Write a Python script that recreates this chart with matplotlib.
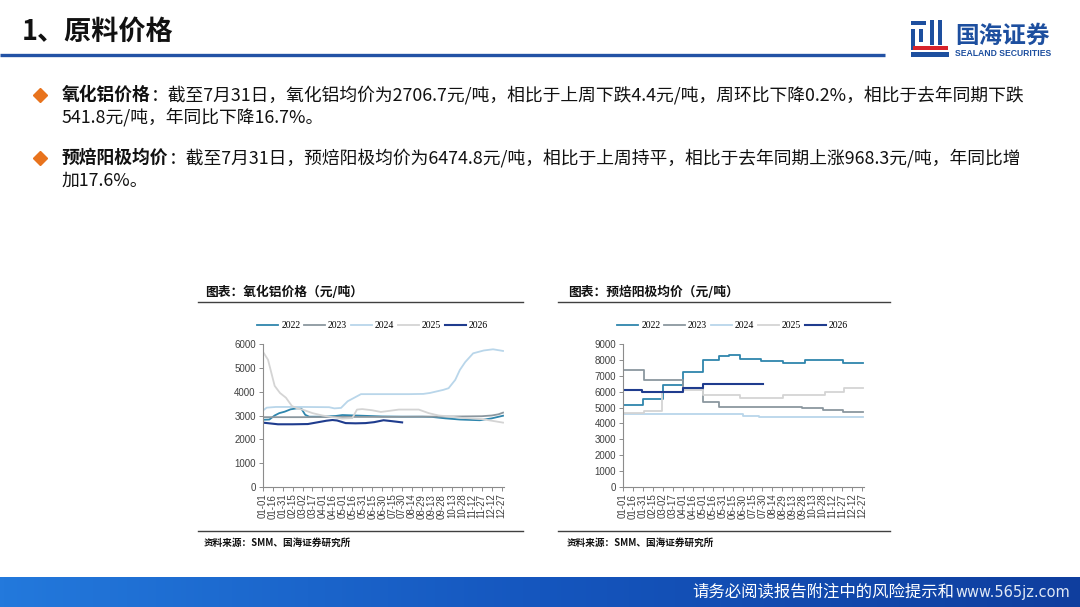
import matplotlib
matplotlib.use('Agg')
import matplotlib.pyplot as plt
import numpy as np
from matplotlib.patches import Rectangle
from matplotlib.colors import LinearSegmentedColormap

plt.rcParams['font.family'] = ['Noto Sans CJK SC', 'DejaVu Sans']

# ---------------- data ----------------
years = ['2022', '2023', '2024', '2025', '2026']
colors = ['#2f86ad', '#8b979f', '#b9d6ea', '#d4d4d4', '#1f3c8e']

date_labels = ['01-01', '01-16', '01-31', '02-15', '03-02', '03-17', '04-01', '04-16',
               '05-01', '05-16', '05-31', '06-15', '06-30', '07-15', '07-30', '08-14',
               '08-29', '09-13', '09-28', '10-13', '10-28', '11-12', '11-27', '12-12',
               '12-27']

# 氧化铝价格 (day of year, 元/吨)
ao_2022_x = [0, 10, 18, 25, 33, 42, 51, 58, 64, 70, 90, 110, 120, 150, 180, 210, 240, 255, 275, 297, 327, 345, 362]
ao_2022_y = [2820, 2830, 3000, 3100, 3160, 3260, 3300, 3300, 3030, 2950, 2950, 2980, 3020, 2990, 2960, 2950, 2950, 2940, 2880, 2830, 2800, 2880, 2990]
ao_2023_x = [0, 60, 120, 180, 240, 300, 330, 345, 355, 362]
ao_2023_y = [2930, 2930, 2940, 2940, 2950, 2960, 2970, 3000, 3050, 3120]
ao_2024_x = [0, 6, 20, 60, 100, 108, 118, 128, 136, 148, 180, 220, 242, 252, 272, 280, 290, 297, 305, 317, 333, 347, 362]
ao_2024_y = [3200, 3330, 3360, 3360, 3350, 3300, 3320, 3600, 3720, 3900, 3900, 3900, 3910, 3950, 4080, 4150, 4500, 4920, 5250, 5620, 5740, 5790, 5720]
ao_2025_x = [0, 8, 18, 26, 35, 44, 52, 60, 75, 90, 105, 120, 135, 142, 150, 165, 178, 192, 205, 235, 250, 265, 285, 300, 330, 345, 362]
ao_2025_y = [5700, 5350, 4250, 3950, 3750, 3400, 3300, 3250, 3100, 3000, 2930, 2870, 2890, 3250, 3270, 3220, 3150, 3200, 3250, 3250, 3100, 3000, 2950, 2900, 2850, 2780, 2700]
ao_2026_x = [0, 10, 23, 45, 68, 80, 96, 105, 112, 125, 140, 155, 168, 182, 195, 210]
ao_2026_y = [2700, 2670, 2630, 2630, 2640, 2700, 2780, 2810, 2790, 2680, 2670, 2680, 2720, 2800, 2760, 2710]

# 预焙阳极均价 (step data: value holds from x until next x)
an_2022_x = [0, 30, 60, 90, 120, 145, 160, 176, 208, 241, 274, 331, 362]
an_2022_y = [5150, 5550, 6400, 7250, 8000, 8270, 8320, 8100, 7940, 7800, 8020, 7800, 7800]
an_2023_x = [0, 31, 90, 120, 145, 270, 301, 331, 362]
an_2023_y = [7400, 6720, 6250, 5350, 5020, 4980, 4850, 4700, 4700]
an_2024_x = [0, 120, 165, 180, 205, 300, 330, 362]
an_2024_y = [4600, 4620, 4600, 4500, 4430, 4380, 4420, 4420]
an_2025_x = [0, 31, 58, 90, 120, 176, 241, 304, 333, 362]
an_2025_y = [4680, 4780, 6000, 6100, 5800, 5590, 5800, 5970, 6220, 6220]
an_2026_x = [0, 28, 58, 90, 120, 176, 211]
an_2026_y = [6100, 6010, 5970, 6260, 6460, 6480, 6480]

alumina = [(ao_2022_x, ao_2022_y), (ao_2023_x, ao_2023_y), (ao_2024_x, ao_2024_y),
           (ao_2025_x, ao_2025_y), (ao_2026_x, ao_2026_y)]
anode = [(an_2022_x, an_2022_y), (an_2023_x, an_2023_y), (an_2024_x, an_2024_y),
         (an_2025_x, an_2025_y), (an_2026_x, an_2026_y)]

W, H = 1080, 607
fig = plt.figure(figsize=(W / 100, H / 100), dpi=100)
fig.patch.set_facecolor('white')

# background axes in pixel coordinates
bg = fig.add_axes([0, 0, 1, 1])
bg.axis('off')

# footer band
cmap = LinearSegmentedColormap.from_list('foot', ['#2379dc', '#1556be', '#0f3e9e'])
grad = np.linspace(0, 1, 256).reshape(1, -1)
bg.imshow(grad, extent=(0, W, 607, 577), aspect='auto', cmap=cmap, zorder=0)
bg.set_xlim(0, W)
bg.set_ylim(H, 0)

# title
bg.text(22, 32, '1、原料价格', fontsize=19.5, fontweight='bold', va='center', color='#111111')
bg.plot([0, 885], [55, 55], color='#2352a5', lw=2.4, solid_capstyle='butt')

# logo
blue = '#1d4f9f'
for (x0, y0, w, h) in [(911, 21, 15, 4), (911, 29, 4, 21), (919, 29, 4, 13),
                       (930, 20, 4, 25), (938, 20, 4, 25), (911, 52, 38, 5)]:
    bg.add_patch(Rectangle((x0, y0), w, h, color=blue, lw=0))
bg.add_patch(Rectangle((913, 45.5), 35, 4, color='#d8232a', lw=0))
bg.text(955, 36, '国海证券', fontsize=17, fontweight='bold', color=blue, va='center')
bg.text(955, 53.5, 'SEALAND SECURITIES', fontsize=6.2, fontweight='bold', color=blue,
        va='center', family='Liberation Sans')

# bullets
renderer = fig.canvas.get_renderer()
BODY = 12.8


def rich_line(x, y, bold, normal, size=BODY):
    t = bg.text(x, y, bold, fontsize=size, fontweight='bold', va='center', color='#111111')
    bb = t.get_window_extent(renderer)
    bg.text(x + bb.width, y, normal, fontsize=size, va='center', color='#111111')


for yy in (95, 158):
    bg.plot(40, yy, marker='D', ms=7, color='#e8731d', mec='#e8731d')

rich_line(62, 95, '氧化铝价格', '：截至7月31日，氧化铝均价为2706.7元/吨，相比于上周下跌4.4元/吨，周环比下降0.2%，相比于去年同期下跌')
bg.text(62, 117, '541.8元/吨，年同比下降16.7%。', fontsize=BODY, va='center', color='#111111')
rich_line(62, 158, '预焙阳极均价', '：截至7月31日，预焙阳极均价为6474.8元/吨，相比于上周持平，相比于去年同期上涨968.3元/吨，年同比增')
bg.text(62, 181, '加17.6%。', fontsize=BODY, va='center', color='#111111')

# chart frames
for (x0, x1, tx, title) in [(198, 523, 205, '图表：氧化铝价格（元/吨）'),
                            (558, 890, 568, '图表：预焙阳极均价（元/吨）')]:
    bg.text(tx, 292, title, fontsize=9.2, fontweight='bold', va='center', color='#111111')
    bg.plot([x0, x1], [302, 302], color='#404040', lw=1.0)
    bg.plot([x0, x1], [531, 531], color='#404040', lw=1.0)
    bg.text(tx - 1, 543, '资料来源：SMM、国海证券研究所', fontsize=6.9, fontweight='bold',
            va='center', color='#111111')

# footer text
bg.text(692, 592, '请务必阅读报告附注中的风险提示和', fontsize=11.8, color='white', va='center')
bg.text(955, 592, 'www.565jz.com', fontsize=10.5, color='#dfe8f5', va='center',
        family='DejaVu Sans')


def draw_chart(left_px, series, ymax, ystep, step, legend_cx):
    y_top, y_bot = 344.3, 486.7
    xmax = 363
    width_px = xmax / 360 * 239
    ax = fig.add_axes([left_px / W, 1 - y_bot / H, width_px / W, (y_bot - y_top) / H])
    handles = []
    for (xs, ys), c, lab in zip(series, colors, years):
        lw = 1.5 if lab == '2026' else 1.3
        if step:
            h, = ax.step(xs, ys, where='post', color=c, lw=lw, label=lab)
        else:
            h, = ax.plot(xs, ys, color=c, lw=lw, label=lab)
        handles.append(h)
    ax.set_xlim(0, xmax)
    ax.set_ylim(0, ymax)
    ax.set_yticks(np.arange(0, ymax + 1, ystep))
    ax.set_xticks(np.arange(0, 361, 15))
    ax.set_xticklabels(date_labels, rotation=90)
    for s in ('top', 'right'):
        ax.spines[s].set_visible(False)
    for s in ('left', 'bottom'):
        ax.spines[s].set_color('#8c8c8c')
        ax.spines[s].set_linewidth(0.8)
    ax.tick_params(axis='both', length=3, width=0.7, color='#8c8c8c', pad=2)
    for lab in ax.get_xticklabels() + ax.get_yticklabels():
        lab.set_family('Liberation Sans')
        lab.set_fontsize(7)
        lab.set_color('#404040')
    ax.patch.set_alpha(0)
    fig.legend(handles, years, loc='center', bbox_to_anchor=(legend_cx / W, 1 - 326 / H),
               ncol=5, frameon=False, prop={'family': 'Liberation Serif', 'size': 7},
               handlelength=2.2, handletextpad=0.3, columnspacing=0.35)
    return ax


draw_chart(262.7, alumina, 6000, 1000, False, 372.5)
draw_chart(623, anode, 9000, 1000, True, 732.5)

fig.savefig('out.png', dpi=100)
